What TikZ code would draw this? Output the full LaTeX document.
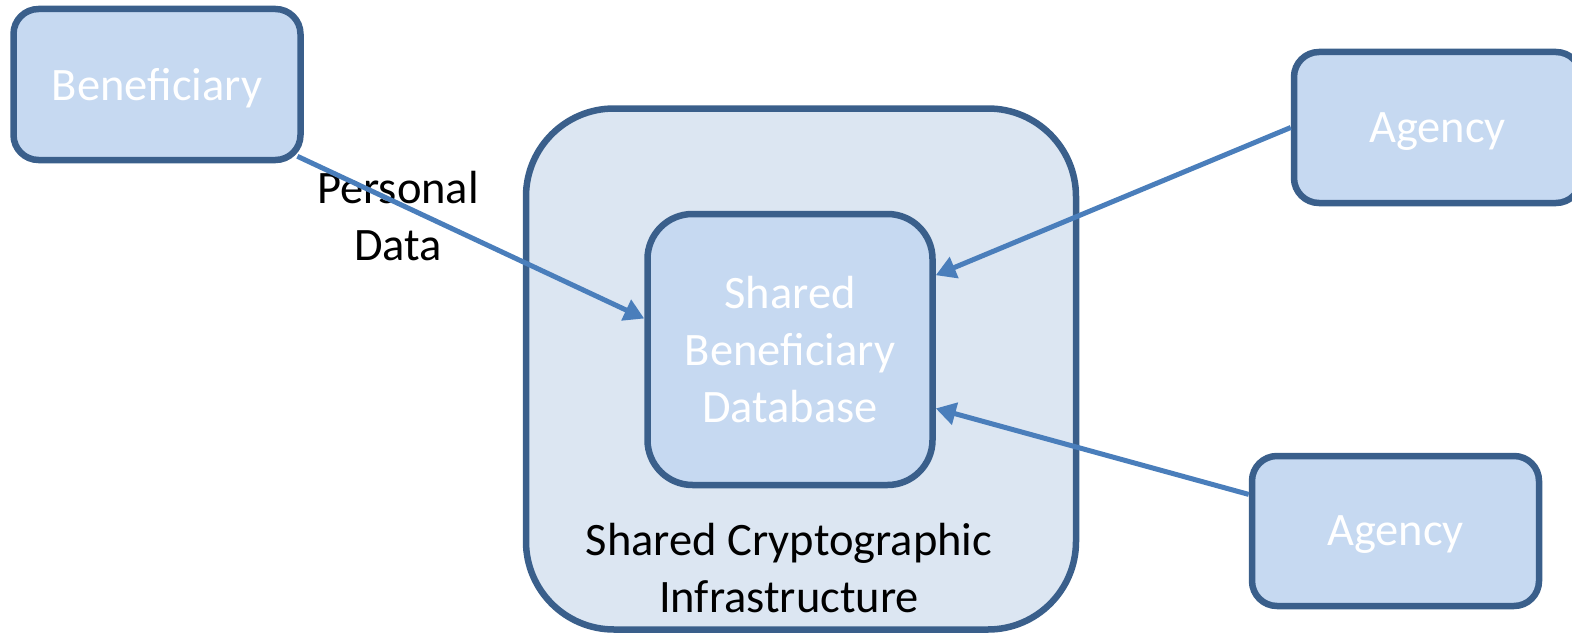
\documentclass[tikz,border=0pt]{standalone}
\usepackage{fontspec}
\setmainfont{Carlito}
\usetikzlibrary{arrows.meta}
\definecolor{boxline}{HTML}{3A5F8B}
\definecolor{boxfill}{HTML}{C6D9F1}
\definecolor{outerfill}{HTML}{DCE6F2}
\definecolor{arrowcol}{HTML}{4A7EBB}
\tikzset{
  entity/.style={draw=boxline, fill=boxfill, line width=6.5pt, rounded corners=25pt,
    minimum width=287pt, minimum height=151pt, inner sep=0pt, text=white,
    font=\fontsize{46.5}{57}\selectfont, align=center},
  oneline/.style={text depth=0pt},
  flow/.style={draw=arrowcol, line width=5pt, -{Triangle[length=20pt,width=22pt]}},
  caption/.style={text=black, font=\fontsize{46.5}{57}\selectfont, align=center, inner sep=0pt}
}
\begin{document}
\begin{tikzpicture}[x=1pt,y=-1pt]
\useasboundingbox (0,0) rectangle (1572,634);
% shared infrastructure container
\node[draw=boxline, fill=outerfill, line width=6.5pt, rounded corners=88pt,
      minimum width=550pt, minimum height=521pt, inner sep=0pt] (infra) at (801,369) {};
% parties and the central database
\node[entity, oneline] (ben) at (157,84.5) {Beneficiary};
\node[entity, minimum width=285pt, minimum height=271pt, rounded corners=45pt] (db) at (790,349.5)
  {Shared\\Beneficiary\\Database};
\node[entity, oneline] (ag1) at (1437.5,127.5) {Agency};
\node[entity, oneline, minimum height=150pt] (ag2) at (1395.5,531) {Agency};
% captions
\node[caption] (pd) at (398,216) {Personal\\Data};
\node[caption] (sci) at (789,568) {Shared Cryptographic\\Infrastructure};
% data flows
\draw[flow, shorten <=-7pt] (ben.-27.6) -- (db.168.3);
\draw[flow] (ag1.west) -- (db.27.7);
\draw[flow] (ag2.166.9) -- (db.-22.2);
\end{tikzpicture}
\end{document}
